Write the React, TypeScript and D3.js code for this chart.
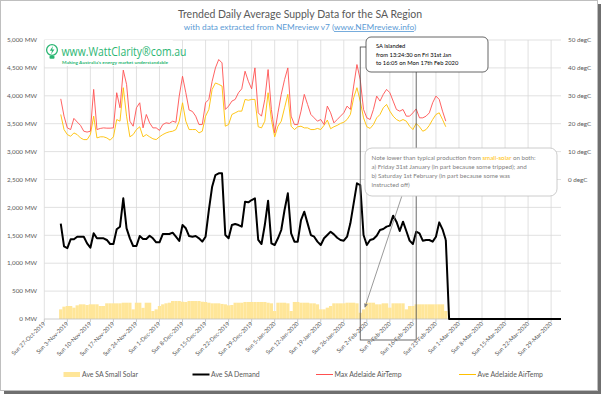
import React from 'react';
import * as d3 from 'd3';

// daily series, first value is Fri 1-Nov-2019
const startDay = new Date(2019, 10, 1);

const demand = [
  1710, 1300, 1270, 1428, 1428, 1475, 1475, 1475, 1356, 1278,
  1535, 1446, 1446, 1446, 1416, 1344, 1344, 1607, 1655, 2162,
  1625, 1446, 1308, 1308, 1487, 1434, 1434, 1493, 1446, 1374,
  1374, 1523, 1523, 1523, 1547, 1475, 1398, 1684, 1625, 1487,
  1475, 1487, 1446, 1386, 1475, 1953, 2371, 2580, 2610, 2610,
  1505, 1446, 1684, 1702, 1684, 1655, 2103, 2091, 2132, 2162,
  1416, 1344, 1684, 2120, 1356, 1326, 1446, 1595, 1953, 2252,
  1535, 1386, 1386, 1774, 1923, 1714, 1505, 1475, 1386, 1326,
  1446, 1505, 1565, 1517, 1457, 1416, 1404, 1475, 1714, 2073,
  2431, 2401, 1505, 1326, 1416, 1434, 1493, 1595, 1613, 1655,
  1673, 1852, 1744, 1577, 1744, 1577, 1404, 1344, 1565, 1535,
  1404, 1416, 1416, 1386, 1475, 1732, 1607, 1416,
];

const solar = [
  173, 221, 233, 233, 203, 245, 263, 263, 251, 263,
  263, 263, 233, 233, 281, 281, 281, 281, 281, 292,
  292, 292, 173, 292, 292, 200, 292, 292, 143, 173,
  233, 263, 281, 292, 322, 322, 322, 310, 305, 322,
  322, 322, 322, 310, 305, 292, 281, 281, 281, 270,
  263, 245, 251, 292, 292, 292, 305, 305, 305, 305,
  305, 305, 305, 292, 281, 143, 292, 292, 292, 281,
  143, 305, 305, 292, 292, 292, 281, 281, 263, 173,
  173, 203, 233, 281, 281, 281, 281, 292, 292, 292,
  281, 112, 173, 292, 292, 292, 263, 263, 281, 281,
  203, 281, 281, 281, 281, 173, 233, 233, 263, 263,
  263, 263, 263, 263, 263, 263, 263, 143,
];

const maxTemp = [
  28.9, 22.7, 18.5, 17.9, 21.9, 20.6, 19.4, 17.3, 17.0, 17.3,
  32.3, 17.9, 18.3, 18.5, 18.4, 18.4, 18.5, 31.1, 25.7, 39.2,
  34.1, 20.9, 19.1, 25.7, 27.5, 18.5, 23.3, 20.3, 18.5, 18.5,
  17.6, 19.7, 20.3, 20.1, 20.9, 20.5, 29.9, 37.0, 31.1, 24.9,
  24.4, 22.7, 19.7, 19.7, 27.5, 28.7, 35.2, 40.0, 43.0, 41.8,
  25.1, 26.3, 28.1, 28.7, 31.1, 32.5, 38.8, 35.2, 32.5, 40.0,
  23.9, 22.7, 28.7, 39.4, 25.1, 16.7, 23.9, 30.5, 35.8, 40.0,
  22.7, 19.7, 19.7, 24.5, 30.5, 26.9, 23.3, 22.1, 20.9, 21.5,
  19.7, 26.3, 23.9, 20.3, 21.5, 22.7, 23.9, 26.3, 25.1, 33.5,
  41.2, 35.8, 25.1, 22.1, 21.5, 25.1, 29.9, 28.1, 30.5, 32.3,
  31.1, 28.1, 25.1, 24.5, 25.1, 22.7, 22.7, 23.9, 25.3, 22.1,
  22.1, 22.7, 23.9, 27.5, 29.9, 28.7, 24.5, 20.9,
];

const aveTemp = [
  23.3, 17.9, 16.1, 15.5, 16.7, 16.1, 14.9, 14.3, 14.3, 16.1,
  22.7, 14.9, 15.3, 15.3, 14.9, 14.1, 15.3, 21.5, 20.9, 32.9,
  22.7, 15.3, 16.1, 17.9, 18.9, 15.3, 16.1, 15.3, 14.6, 14.3,
  15.3, 16.1, 16.7, 17.1, 17.3, 17.9, 20.9, 27.5, 20.9, 17.9,
  17.9, 17.9, 16.7, 17.3, 22.7, 25.1, 32.3, 34.6, 34.1, 33.5,
  19.1, 19.7, 23.3, 23.9, 24.5, 24.5, 28.7, 28.4, 28.7, 28.7,
  18.9, 18.5, 20.9, 31.1, 21.5, 15.3, 19.1, 20.9, 25.7, 30.5,
  19.1, 17.9, 18.9, 19.1, 18.5, 18.5, 17.9, 17.9, 18.3, 17.9,
  19.4, 21.3, 18.2, 18.9, 19.4, 20.1, 20.5, 21.5, 23.3, 29.3,
  32.9, 28.1, 22.1, 18.9, 18.3, 19.7, 22.1, 23.3, 25.7, 26.9,
  24.5, 22.7, 21.5, 20.9, 21.5, 20.9, 19.1, 17.9, 20.1, 18.9,
  17.3, 17.9, 19.4, 21.5, 23.3, 23.9, 21.5, 18.9,
];

// after the data stops, demand sits on zero to the end of the axis
const demandTail = [
  { date: new Date(2020, 1, 27), value: 0 },
  { date: new Date(2020, 3, 1), value: 0 },
];

const mwTicks = [0, 500, 1000, 1500, 2000, 2500, 3000, 3500, 4000, 4500, 5000];
const tempTicks = [0, 10, 20, 30, 40, 50];
const islandStart = new Date(2020, 0, 31);
const islandEnd = new Date(2020, 1, 17);

const legendItems = [
  { label: 'Ave SA Small Solar', kind: 'bar', color: '#ffe699' },
  { label: 'Ave SA Demand', kind: 'line', color: '#000000' },
  { label: 'Max Adelaide AirTemp', kind: 'line', color: '#ff5050' },
  { label: 'Ave Adelaide AirTemp', kind: 'line', color: '#ffc000' },
];
const legendX = [63.5, 192.5, 316, 459];

const font = 'Lato, "Open Sans", sans-serif';
const grey = '#595959';
const green = '#2bb673';

export default function App() {
  const W = 604;
  const H = 396;
  const left = 44.3;
  const right = 561;
  const top = 40;
  const bottom = 319;

  const x = d3.scaleTime()
    .domain([new Date(2019, 9, 27), new Date(2020, 3, 1)])
    .range([left, right]);
  const y = d3.scaleLinear().domain([0, 5000]).range([bottom, top]);
  const yT = d3.scaleLinear().domain([-50, 50]).range([bottom, top]);

  const days = demand.map((_, i) => d3.timeDay.offset(startDay, i));
  const weeks = d3.timeWeek.range(new Date(2019, 9, 27), new Date(2020, 3, 1));
  const fmtDate = d3.timeFormat('%a %-d-%b-%Y');
  const fmtMW = d3.format(',');
  const dayW = x(d3.timeDay.offset(startDay, 1)) - x(startDay);

  const demandLine = d3.line<number>()
    .x((_, i) => x(days[i]))
    .y(d => y(d));
  const tailLine = d3.line<{ date: Date; value: number }>()
    .x(d => x(d.date))
    .y(d => y(d.value));
  const tempLine = d3.line<number>()
    .x((_, i) => x(days[i]))
    .y(d => yT(d));

  const lastPt = { date: days[days.length - 1], value: demand[demand.length - 1] };

  const xi0 = x(islandStart);
  const xi1 = x(islandEnd);

  return (
    <svg width={W} height={H} style={{ position: 'absolute', left: 0, top: 0 }} fontFamily={font}>
      <defs>
        <marker id="arr" viewBox="0 0 10 10" refX="8" refY="5" markerWidth="5" markerHeight="5" orient="auto">
          <path d="M0,0 L10,5 L0,10 z" fill="#808080" />
        </marker>
      </defs>
      {/* frame with shadow */}
      <rect x={4} y={4} width={597} height={390} fill="#6f6f6f" />
      <rect x={0.5} y={0.5} width={597} height={390} fill="#fff" stroke="#bfbfbf" />

      {/* titles */}
      <text x={300} y={18} textAnchor="middle" fontSize={10.5} fill={grey}>
        Trended Daily Average Supply Data for the SA Region
      </text>
      <text x={300} y={30} textAnchor="middle" fontSize={8.3} fill="#5b9bd5">
        with data extracted from NEMreview v7 (<tspan textDecoration="underline">www.NEMreview.info</tspan>)
      </text>

      {/* gridlines */}
      {mwTicks.filter(t => t > 0).map(t => (
        <line key={'h' + t} x1={left} x2={right} y1={y(t)} y2={y(t)} stroke="#d9d9d9" strokeWidth={0.8} />
      ))}
      {weeks.slice(1).map(w => (
        <line key={'v' + w.getTime()} x1={x(w)} x2={x(w)} y1={top} y2={bottom} stroke="#d9d9d9" strokeWidth={0.8} />
      ))}
      <line x1={left} x2={left} y1={top} y2={bottom} stroke="#d9d9d9" strokeWidth={0.8} />

      {/* logo */}
      <rect x={left + 0.5} y={top} width={128} height={26} fill="#fff" />
      <g transform="translate(52,52)">
        <circle cx={0} cy={-2} r={5.4} fill="none" stroke={green} strokeWidth={1.3} />
        <path d="M1,-6 L-2.2,-1.2 L0,-1.2 L-1,2.6 L2.4,-2.6 L0.2,-2.6 z" fill={green} />
        <rect x={-2.5} y={3.8} width={5} height={3} rx={1} fill={green} />
      </g>
      <text x={61.5} y={56} fontSize={12} fill={green} fontFamily='"Open Sans", sans-serif'
        textLength={125} lengthAdjust="spacingAndGlyphs">
        www.WattClarity®com.au
      </text>
      <text x={62} y={63.5} fontSize={4.3} fill={green} fontWeight="bold"
        textLength={106} lengthAdjust="spacingAndGlyphs">
        Making Australia's energy market understandable
      </text>

      {/* solar bars */}
      {solar.map((v, i) => (
        <rect key={'s' + i} x={x(days[i]) - dayW / 2} y={y(v)} width={dayW} height={bottom - y(v)} fill="#ffe699" />
      ))}

      {/* axis line and ticks */}
      <line x1={left} x2={right} y1={bottom} y2={bottom} stroke="#bfbfbf" strokeWidth={0.8} />
      {weeks.map(w => (
        <line key={'t' + w.getTime()} x1={x(w)} x2={x(w)} y1={bottom} y2={bottom + 3} stroke="#bfbfbf" strokeWidth={0.8} />
      ))}

      {/* temps */}
      <path d={tempLine(aveTemp) || ''} fill="none" stroke="#ffc000" strokeWidth={0.9} />
      <path d={tempLine(maxTemp) || ''} fill="none" stroke="#ff5050" strokeWidth={0.9} />

      {/* demand */}
      <path d={demandLine(demand) || ''} fill="none" stroke="#000" strokeWidth={2} strokeLinejoin="round" />
      <path d={tailLine([lastPt, ...demandTail]) || ''} fill="none" stroke="#000" strokeWidth={2} strokeLinejoin="round" />

      {/* islanded period bracket */}
      <rect x={xi0} y={47} width={xi1 - xi0} height={340 - 47} fill="none" stroke="#595959" strokeWidth={0.9} />

      {/* islanded box */}
      <rect x={366} y={37} width={122} height={35} rx={5} fill="#fff" stroke="#404040" strokeWidth={0.8} />
      <g fontSize={5.8} fill="#000">
        <text x={376} y={48}>SA islanded</text>
        <text x={376} y={56.5}>from 13:24:30 on Fri 31st Jan</text>
        <text x={376} y={64.5}>to 16:05 on Mon 17th Feb 2020</text>
      </g>

      {/* note box */}
      <rect x={365} y={148} width={192} height={48} rx={7} fill="#fff" stroke="#bfbfbf" strokeWidth={0.8} />
      <g fontSize={6.2} fill="#7f7f7f">
        <text x={371.5} y={160}>
          Note lower than typical production from <tspan fill="#ffc000">small-solar</tspan> on both:
        </text>
        <text x={371.5} y={169}>a) Friday 31st January (in part because some tripped); and</text>
        <text x={371.5} y={178}>b)  Saturday 1st February (in part because some was</text>
        <text x={371.5} y={187}>instructed off)</text>
      </g>
      <line x1={401.7} y1={196.5} x2={365} y2={307} stroke="#808080" strokeWidth={0.8} markerEnd="url(#arr)" />

      {/* left axis labels */}
      {mwTicks.map(t => (
        <text key={'l' + t} x={37} y={y(t) + 2.2} textAnchor="end" fontSize={6.3} fill={grey}>
          {fmtMW(t)} MW
        </text>
      ))}
      {/* right axis labels */}
      {tempTicks.map(t => (
        <text key={'r' + t} x={568} y={yT(t) + 2.2} fontSize={6.3} fill={grey}>
          {t} degC
        </text>
      ))}

      {/* x labels */}
      {weeks.map(w => (
        <text
          key={'x' + w.getTime()}
          transform={`translate(${x(w) + 1.5},${bottom + 5}) rotate(-45)`}
          textAnchor="end"
          fontSize={5.8}
          fill={grey}
        >
          {fmtDate(w)}
        </text>
      ))}

      {/* legend */}
      {legendItems.map((it, i) => {
        const lx = legendX[i];
        const ly = 374.5;
        return (
          <g key={it.label}>
            {it.kind === 'bar'
              ? <rect x={lx} y={ly - 2.5} width={16.5} height={5} fill={it.color} />
              : <line x1={lx} x2={lx + 17} y1={ly} y2={ly} stroke={it.color} strokeWidth={i === 1 ? 2 : 1} />}
            <text x={lx + 18.5} y={ly + 2.3} fontSize={6.9} fill={grey}>{it.label}</text>
          </g>
        );
      })}
    </svg>
  );
}
